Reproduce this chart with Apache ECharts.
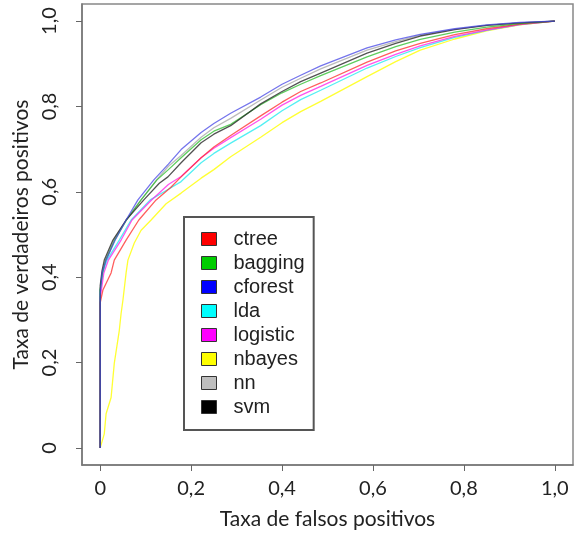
<!DOCTYPE html>
<html>
<head>
<meta charset="utf-8">
<script src="https://cdn.jsdelivr.net/npm/echarts@6/dist/echarts.min.js"></script>
<style>
  html, body { margin: 0; padding: 0; background: #fff; }
  #chart { width: 577px; height: 537px; }
</style>
</head>
<body>
<div id="chart"></div>
<script>
// ROC curves: [false positive rate, true positive rate]
const ctree = [[0,0],[0,0.34],[0.006,0.37],[0.024,0.41],[0.031,0.44],[0.057,0.487],[0.085,0.534],[0.123,0.581],[0.155,0.61],[0.178,0.635],[0.222,0.68],[0.25,0.705],[0.287,0.732],[0.353,0.778],[0.4,0.81],[0.441,0.835],[0.485,0.855],[0.587,0.904],[0.65,0.93],[0.704,0.948],[0.78,0.968],[0.85,0.982],[0.923,0.993],[1,1]];
const bagging = [[0,0],[0,0.37],[0.005,0.41],[0.012,0.44],[0.032,0.487],[0.058,0.534],[0.09,0.581],[0.125,0.628],[0.15,0.652],[0.178,0.68],[0.222,0.722],[0.25,0.742],[0.287,0.758],[0.353,0.804],[0.4,0.832],[0.441,0.852],[0.485,0.872],[0.587,0.916],[0.65,0.94],[0.704,0.957],[0.78,0.974],[0.85,0.986],[0.923,0.994],[1,1]];
const cforest = [[0,0],[0,0.36],[0.004,0.41],[0.013,0.44],[0.033,0.487],[0.057,0.534],[0.083,0.581],[0.118,0.628],[0.15,0.665],[0.178,0.699],[0.222,0.739],[0.25,0.76],[0.287,0.784],[0.353,0.822],[0.4,0.852],[0.441,0.873],[0.485,0.895],[0.587,0.937],[0.65,0.956],[0.704,0.969],[0.78,0.982],[0.85,0.991],[0.923,0.997],[1,1]];
const lda = [[0,0],[0,0.37],[0.006,0.41],[0.015,0.44],[0.042,0.487],[0.068,0.534],[0.11,0.581],[0.15,0.606],[0.178,0.624],[0.222,0.668],[0.25,0.69],[0.287,0.714],[0.353,0.755],[0.4,0.79],[0.441,0.816],[0.485,0.838],[0.587,0.89],[0.65,0.917],[0.704,0.938],[0.78,0.962],[0.85,0.978],[0.923,0.992],[1,1]];
const logistic = [[0,0],[0,0.35],[0.008,0.41],[0.018,0.44],[0.046,0.487],[0.07,0.534],[0.113,0.581],[0.15,0.617],[0.178,0.636],[0.222,0.68],[0.25,0.702],[0.287,0.727],[0.353,0.77],[0.4,0.803],[0.441,0.826],[0.485,0.847],[0.587,0.896],[0.65,0.922],[0.704,0.942],[0.78,0.964],[0.85,0.979],[0.923,0.992],[1,1]];
const nbayes = [[0,0],[0.009,0.033],[0.013,0.08],[0.024,0.118],[0.031,0.198],[0.042,0.275],[0.046,0.315],[0.05,0.346],[0.057,0.41],[0.061,0.44],[0.075,0.48],[0.09,0.51],[0.112,0.534],[0.145,0.572],[0.178,0.597],[0.222,0.632],[0.25,0.652],[0.287,0.682],[0.353,0.728],[0.4,0.762],[0.441,0.788],[0.485,0.812],[0.587,0.87],[0.65,0.905],[0.704,0.932],[0.78,0.958],[0.85,0.977],[0.923,0.991],[1,1]];
const nn = [[0,0],[0,0.37],[0.005,0.41],[0.012,0.44],[0.03,0.487],[0.057,0.534],[0.09,0.581],[0.124,0.628],[0.15,0.66],[0.178,0.685],[0.222,0.728],[0.25,0.75],[0.287,0.772],[0.353,0.815],[0.4,0.845],[0.441,0.866],[0.485,0.888],[0.587,0.932],[0.65,0.952],[0.704,0.967],[0.78,0.981],[0.85,0.99],[0.923,0.996],[1,1]];
const svm = [[0,0],[0,0.38],[0.004,0.415],[0.009,0.44],[0.028,0.487],[0.057,0.534],[0.096,0.581],[0.13,0.62],[0.149,0.635],[0.178,0.668],[0.222,0.715],[0.25,0.735],[0.287,0.755],[0.353,0.806],[0.4,0.835],[0.441,0.858],[0.485,0.878],[0.587,0.925],[0.65,0.948],[0.704,0.965],[0.78,0.98],[0.85,0.99],[0.923,0.996],[1,1]];

const modelNames = ['ctree', 'bagging', 'cforest', 'lda', 'logistic', 'nbayes', 'nn', 'svm'];
const tickValues = [0, 0.2, 0.4, 0.6, 0.8, 1.0];

const curves = { ctree, bagging, cforest, lda, logistic, nbayes, nn, svm };
const swatch = {
  ctree: '#ff0000', bagging: '#00cd00', cforest: '#0000ff', lda: '#00ffff',
  logistic: '#ff00ff', nbayes: '#ffff00', nn: '#bebebe', svm: '#000000'
};
const lineTint = {
  ctree: 'rgba(255,40,40,0.75)', bagging: 'rgba(40,190,40,0.75)', cforest: 'rgba(70,70,230,0.75)',
  lda: 'rgba(40,235,240,0.8)', logistic: 'rgba(255,40,235,0.8)', nbayes: 'rgba(255,255,40,0.95)',
  nn: 'rgba(170,170,170,0.8)', svm: 'rgba(40,40,40,0.8)'
};
// painting order: grey first, blue last
const drawOrder = ['nn', 'nbayes', 'lda', 'logistic', 'ctree', 'bagging', 'svm', 'cforest'];

const fmt = v => (Math.abs(v) < 1e-9 ? '0' : v.toFixed(1).replace('.', ','));
const labelFont = 'Lato, "Open Sans", sans-serif';

const chart = echarts.init(document.getElementById('chart'), null, { renderer: 'canvas' });

const axisCommon = {
  type: 'value', min: -0.04, max: 1.04,
  splitLine: { show: false },
  axisLine: { show: true, onZero: false, lineStyle: { color: '#777', width: 1.5 } },
  axisTick: { show: true, customValues: tickValues, length: 6, lineStyle: { color: '#666', width: 1 } },
  axisLabel: { customValues: tickValues, formatter: fmt, color: '#222', fontSize: 20, fontFamily: labelFont },
  nameLocation: 'middle',
  nameTextStyle: { color: '#222', fontSize: 21, fontFamily: labelFont }
};

chart.setOption({
  animation: false,
  backgroundColor: '#fff',
  grid: { left: 82, right: 4, top: 4, bottom: 72, show: true, borderColor: '#888', borderWidth: 1.5 },
  xAxis: Object.assign({}, axisCommon, {
    name: 'Taxa de falsos positivos', nameGap: 44,
    axisLabel: Object.assign({}, axisCommon.axisLabel, { margin: 14 })
  }),
  yAxis: Object.assign({}, axisCommon, {
    name: 'Taxa de verdadeiros positivos', nameGap: 49,
    axisLabel: Object.assign({}, axisCommon.axisLabel, { rotate: 90, margin: 22 })
  }),
  legend: {
    orient: 'vertical', left: 184, top: 217,
    icon: 'rect', itemWidth: 15, itemHeight: 13, itemGap: 4,
    padding: [12, 9, 13, 17],
    borderColor: '#555', borderWidth: 2, backgroundColor: '#fff',
    textStyle: { fontFamily: '"Liberation Sans", Arial, sans-serif', fontSize: 20, color: '#222', padding: [0, 0, 0, 12] },
    data: modelNames.map(n => ({ name: n, itemStyle: { color: swatch[n], borderColor: '#333', borderWidth: 1 } }))
  },
  series: drawOrder.map(n => ({
    name: n, type: 'line', data: curves[n], symbol: 'none', smooth: false,
    itemStyle: { color: swatch[n] },
    lineStyle: { color: lineTint[n], width: 1.3 },
    emphasis: { disabled: true }
  }))
});
</script>
</body>
</html>
